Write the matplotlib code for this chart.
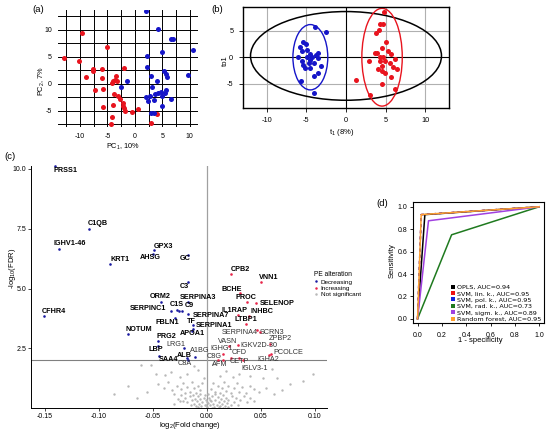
import matplotlib
matplotlib.use("Agg")
import matplotlib.pyplot as plt
from matplotlib.patches import Ellipse
from matplotlib.lines import Line2D
from matplotlib.ticker import MultipleLocator

plt.rcParams["font.family"] = ["Liberation Sans", "DejaVu Sans"]
plt.rcParams["mathtext.fontset"] = "custom"
plt.rcParams["mathtext.rm"] = "Liberation Sans"
plt.rcParams["mathtext.it"] = "Liberation Sans:italic"
plt.rcParams["mathtext.bf"] = "Liberation Sans:bold"
plt.rcParams["axes.unicode_minus"] = False

W, H = 550, 434

# ---- (a) PCA scores ----
pca_red_x = [-9.7, -12.9, -10.1, -5.1, -7.6, -7.6, -8.9, -5.9, -2.0, -5.9, -3.5, -3.6, -3.9, -4.2, -3.3, -7.3,
             -5.8, -3.8, -3.0, -2.7, -2.2, -2.2, -2.0, -1.8, -3.9, -5.8, -0.5, 0.6, -4.2, -4.4, 4.1, 3.0]
pca_red_y = [9.4, 4.8, 4.3, 6.9, 2.7, 2.4, 1.2, 2.8, 2.9, 1.1, 1.5, 0.7, 0.6, 0.2, 0.6, -1.2,
             -1.0, -1.9, -2.3, -2.8, -3.5, -4.1, -4.5, -5.0, -3.9, -4.2, -5.3, -4.7, -6.2, -7.5, -5.5, -7.2]
pca_blue_x = [2.1, -1.5, -2.6, 2.3, 2.3, 4.2, 6.5, 7.0, 10.5, 4.9, 5.3, 5.6, 5.9, 3.0, 4.1, 9.7,
              3.2, 3.6, 4.2, 4.7, 5.0, 2.7, 2.0, 2.4, 3.5, 5.5, 5.6, 6.5, 5.0, 3.0, 3.5]
pca_blue_y = [13.6, 0.6, -0.5, 5.1, 3.2, 10.2, 8.3, 8.3, 6.3, 5.9, 2.4, 1.9, 1.2, 1.5, 0.6, 1.7,
              -0.5, -1.9, -1.7, -1.6, -2.2, -2.3, -2.5, -3.1, -3.0, -1.7, -1.2, -2.8, -4.1, -5.4, -5.4]

# ---- (b) OPLS-DA scores ----
opls_blue_t = [-3.9, -2.5, -5.4, -5.0, -5.8, -5.6, -3.5, -4.5, -6.0, -4.9, -4.3, -3.5, -5.6, -4.7, -4.1,
               -3.2, -5.2, -4.5, -3.5, -4.1, -5.7, -4.0, -4.9, -4.5, -5.4, -3.8]
opls_blue_to = [5.7, 4.7, 2.8, 2.5, 2.0, 1.2, 0.75, 0.6, 0.0, 0.0, 0.0, -0.2, -0.8, -1.1, -1.1,
                -1.6, -2.1, -2.1, -2.9, -3.5, -4.5, -6.8, 1.3, -0.5, -1.4, 0.4]
opls_red_t = [4.8, 4.3, 4.7, 3.8, 4.2, 5.1, 4.5, 5.3, 3.6, 3.9, 5.7, 4.3, 4.7, 2.9, 6.2, 4.3, 4.9,
              4.5, 5.9, 6.4, 4.5, 4.9, 5.7, 1.3, 4.5, 6.2, 3.0, 4.1, 5.5]
opls_red_to = [8.6, 6.3, 6.3, 4.5, 5.2, 2.8, 1.8, 1.2, 0.75, 0.75, 0.6, 0.0, 0.1, -0.7, -0.4, -0.8, -0.8,
               -1.6, -1.9, -2.3, -2.6, -2.9, -3.8, -4.3, -5.1, -6.0, -7.2, -2.2, -1.0]

# ---- (c) volcano plot ----
dec_genes = ["PRSS1", "C1QB", "IGHV1-46", "KRT1", "GPX3", "AHSG", "GC", "C3", "ORM2", "SERPINA3",
             "SERPINC1", "C1S", "", "C9", "SERPINA7", "TF", "SERPINA1", "FBLN1", "APOA1", "NOTUM",
             "PRG2", "LRG1", "LBP", "ALB", "SAA4", "C8A", "A1BG", "CFHR4"]
dec_fc = [-0.1405, -0.109, -0.1365, -0.0895, -0.0485, -0.050, -0.0173, -0.017, -0.0426, -0.017,
          -0.0331, -0.0278, -0.0256, -0.0226, -0.017, -0.0127, -0.0124, -0.0294, -0.0139, -0.0726,
          -0.0448, -0.021, -0.0448, -0.018, -0.0442, -0.017, -0.0108, -0.1506]
dec_lfdr = [10.1, 7.48, 6.67, 6.03, 6.60, 6.45, 6.39, 5.27, 4.44, 4.42,
            4.07, 4.10, 4.07, 4.07, 3.93, 3.48, 3.31, 3.76, 3.24, 3.11,
            2.79, 2.51, 2.62, 2.12, 2.18, 2.03, 2.14, 3.86]
inc_genes = ["CPB2", "VNN1", "BCHE", "PROC", "SELENOP", "IL1RAP", "INHBC", "LTBP1", "SERPINA4", "SCRN3",
             "ZPBP2", "VASN", "IGHG1", "IGKV2D-30", "CFD", "PCOLCE", "IGHA2", "CETP", "IGLV3-1", "AFM", "C8G"]
inc_fc = [0.0225, 0.0498, 0.0308, 0.037, 0.0456, 0.0293, 0.0394, 0.0361, 0.0466, 0.0489,
          0.0586, 0.0206, 0.0148, 0.0287, 0.0222, 0.0595, 0.058, 0.0339, 0.0299, 0.0154, 0.0107]
inc_lfdr = [5.62, 5.29, 4.80, 4.42, 4.38, 3.90, 3.86, 3.52, 3.27, 3.19,
            2.69, 2.62, 2.28, 2.65, 2.11, 2.28, 2.21, 2.03, 2.09, 2.02, 2.03]
ns_fc = [-0.061, -0.052, -0.047, -0.039, -0.033, -0.025, -0.018, -0.008, -0.003, 0.012, 0.018, 0.024,
         0.030, 0.040, 0.052, 0.065, 0.077, 0.089, 0.098, 0.006, -0.012, 0.034, 0.060,
         -0.086, -0.073, -0.045, -0.040, -0.036, -0.032, -0.030, -0.028, -0.025, -0.024, -0.022, -0.020,
         -0.018, -0.016, -0.014, -0.012, -0.010, -0.008, -0.006, -0.004, 0.004, 0.006, 0.008, 0.010,
         0.012, 0.014, 0.016, 0.018, 0.020, 0.022, 0.025, 0.028, 0.030, 0.033, 0.036, 0.040, 0.044,
         0.048, 0.055, 0.062, 0.070, -0.055, -0.065,
         -0.020, -0.018, -0.016, -0.015, -0.014, -0.013, -0.012, -0.011, -0.010, -0.009, -0.008, -0.007,
         -0.006, -0.005, -0.004, -0.003, -0.002, -0.001, 0.000, 0.001, 0.002, 0.003, 0.004, 0.005,
         0.006, 0.007, 0.008, 0.009, 0.010, 0.011, 0.012, 0.013, 0.014, 0.015, 0.016, 0.017, 0.018,
         0.019, 0.020, 0.022, 0.023, 0.025, 0.027, 0.029, 0.031, 0.034, 0.037, 0.040, 0.044, -0.022,
         -0.024, -0.027, -0.030, -0.002, 0.001, -0.006, 0.008, 0.000, 0.003, -0.001, 0.005, 0.011,
         -0.008, 0.015, 0.020]
ns_lfdr = [1.80, 1.80, 1.42, 1.38, 1.50, 1.30, 1.45, 1.60, 1.25, 1.35, 1.55, 1.30,
           1.45, 1.35, 1.25, 1.28, 1.02, 1.14, 1.45, 1.85, 1.75, 1.75, 1.65,
           0.59, 0.94, 1.00, 0.85, 1.10, 0.75, 0.59, 0.95, 0.32, 0.80, 1.05, 0.65,
           0.90, 0.70, 1.10, 0.85, 0.65, 0.95, 0.75, 1.05, 0.80, 1.05, 0.70, 0.95,
           0.62, 0.85, 1.10, 0.72, 0.95, 0.65, 0.85, 1.05, 0.70, 0.90, 0.62, 0.95, 0.80,
           0.70, 0.85, 0.60, 0.75, 0.70, 0.45,
           0.45, 0.25, 0.50, 0.15, 0.35, 0.55, 0.20, 0.40, 0.10, 0.30, 0.50, 0.18,
           0.38, 0.08, 0.27, 0.45, 0.15, 0.33, 0.05, 0.22, 0.42, 0.12, 0.30, 0.52,
           0.20, 0.07, 0.36, 0.15, 0.48, 0.26, 0.10, 0.40, 0.18, 0.55, 0.30, 0.08, 0.45,
           0.22, 0.35, 0.12, 0.50, 0.28, 0.42, 0.15, 0.33, 0.50, 0.25, 0.45, 0.30, 0.30,
           0.55, 0.40, 0.20, 0.55, 0.60, 0.58, 0.58, 0.25, 0.35, 0.12, 0.03, 0.05,
           0.04, 0.02, 0.06]
plain_labels = {"LRG1", "C8A", "A1BG", "SERPINA4", "SCRN3", "ZPBP2", "VASN", "IGHG1", "IGKV2D-30",
                "CFD", "PCOLCE", "IGHA2", "CETP", "IGLV3-1", "AFM", "C8G"}
# left edge / vertical centre of each gene label (data units)
label_pos = {
    "PRSS1": (-0.1423, 9.94), "C1QB": (-0.1099, 7.70), "IGHV1-46": (-0.1423, 6.87), "KRT1": (-0.0895, 6.21),
    "GPX3": (-0.0488, 6.76), "AHSG": (-0.0618, 6.29), "GC": (-0.0247, 6.24), "C3": (-0.0247, 5.09),
    "ORM2": (-0.0525, 4.67), "SERPINA3": (-0.0247, 4.63), "SERPINC1": (-0.071, 4.17), "C1S": (-0.0346, 4.35),
    "C9": (-0.0201, 4.28), "SERPINA7": (-0.013, 3.89), "TF": (-0.0185, 3.61), "SERPINA1": (-0.0099, 3.45),
    "FBLN1": (-0.0479, 3.59), "APOA1": (-0.0254, 3.11), "NOTUM": (-0.0756, 3.28), "PRG2": (-0.0463, 3.01),
    "LRG1": (-0.037, 2.65), "LBP": (-0.054, 2.46), "ALB": (-0.0278, 2.21), "SAA4": (-0.0448, 2.03),
    "C8A": (-0.0269, 1.86), "A1BG": (-0.0155, 2.41), "CFHR4": (-0.1527, 4.03),
    "CPB2": (0.0225, 5.80), "VNN1": (0.0484, 5.48), "BCHE": (0.0139, 4.97), "PROC": (0.0262, 4.63),
    "SELENOP": (0.0487, 4.39), "IL1RAP": (0.0132, 4.10), "INHBC": (0.0407, 4.05), "LTBP1": (0.0253, 3.71),
    "SERPINA4": (0.0139, 3.15), "SCRN3": (0.0487, 3.15), "ZPBP2": (0.0575, 2.93), "VASN": (0.0105, 2.80),
    "IGHG1": (0.0031, 2.48), "IGKV2D-30": (0.0308, 2.62), "CFD": (0.0231, 2.31), "PCOLCE": (0.0617, 2.35),
    "IGHA2": (0.0469, 2.03), "CETP": (0.0209, 1.95), "IGLV3-1": (0.0324, 1.68), "AFM": (0.0046, 1.82),
    "C8G": (0.0, 2.17),
}

# ---- (d) ROC curves ----
roc_names = ["OPLS, AUC=0.94", "SVM, lin. k., AUC=0.95", "SVM, pol. k., AUC=0.95",
             "SVM, rad. k., AUC=0.73", "SVM, sigm. k., AUC=0.89", "Random forest, AUC=0.95"]
roc_fpr = [[0, 0.06, 1], [0, 0.03, 1], [0, 0.03, 1], [0, 0.28, 1], [0, 0.09, 1], [0, 0.03, 1]]
roc_tpr = [[0, 0.93, 1], [0, 0.93, 1], [0, 0.93, 1], [0, 0.75, 1], [0, 0.875, 1], [0, 0.93, 1]]
roc_colors = ["black", "#ee1111", "#1122dd", "#1f7a1f", "#a040e0", "#ffa030"]

RED = "#e8141e"
BLUE = "#1515c8"


def add_ax(fig, l, t, r, b):
    return fig.add_axes([l / W, 1 - b / H, (r - l) / W, (b - t) / H])


def ftext(fig, x, y, s, **kw):
    fig.text(x / W, 1 - y / H, s, ha=kw.pop("ha", "center"), va=kw.pop("va", "center"), **kw)


fig = plt.figure(figsize=(W / 100, H / 100), dpi=100)

# (a)
ax = add_ax(fig, 58, 10, 198, 127)
ax.scatter(pca_red_x, pca_red_y, s=13, color=RED, linewidths=0, zorder=3)
ax.scatter(pca_blue_x, pca_blue_y, s=13, color=BLUE, linewidths=0, zorder=3)
ax.set_xlim(-14, 11.5)
ax.set_ylim(-8, 13.7)
ax.xaxis.set_major_locator(MultipleLocator(5))
ax.yaxis.set_major_locator(MultipleLocator(5))
ax.xaxis.set_minor_locator(MultipleLocator(2.5))
ax.yaxis.set_minor_locator(MultipleLocator(2.5))
ax.grid(which="both", color="black", lw=0.7)
ax.set_axisbelow(True)
for sp in ax.spines.values():
    sp.set_visible(False)
ax.tick_params(which="both", length=0, labelsize=5, pad=4.5)
ftext(fig, 38, 10, "(a)", fontsize=6.8)
ftext(fig, 123, 146.5, "PC$_1$, 10%", fontsize=5.3)
ftext(fig, 42, 81, "PC$_2$, 7%", fontsize=5.3, rotation=90)

# (b)
ax = add_ax(fig, 243, 7.3, 449, 107.7)
for v in (-10, -5, 5, 10):
    ax.axvline(v, color="#b0b0b0", lw=0.8, zorder=1)
ax.axhline(-5, color="#b0b0b0", lw=0.8, zorder=1)
ax.axhline(5, color="#b0b0b0", lw=0.8, zorder=1)
ax.axvline(0, color="black", lw=0.8, zorder=1)
ax.axhline(0, color="black", lw=0.8, zorder=1)
ax.add_patch(Ellipse((0, 0.25), 24.1, 16.7, fill=False, ec="black", lw=1.1, zorder=2))
ax.add_patch(Ellipse((-4.5, 0), 4.4, 12.3, fill=False, ec=BLUE, lw=1.0, zorder=2))
ax.add_patch(Ellipse((4.55, 0), 5.1, 18.4, fill=False, ec=RED, lw=1.0, zorder=2))
ax.scatter(opls_blue_t, opls_blue_to, s=13, color=BLUE, linewidths=0, zorder=3)
ax.scatter(opls_red_t, opls_red_to, s=13, color=RED, linewidths=0, zorder=3)
ax.set_xlim(-13, 13)
ax.set_ylim(-9.5, 9.4)
ax.set_xticks([-10, -5, 0, 5, 10])
ax.set_yticks([-5, 0, 5])
ax.tick_params(length=3, width=0.6, labelsize=5.3, pad=4)
for sp in ax.spines.values():
    sp.set_linewidth(1.0)
ftext(fig, 217, 10, "(b)", fontsize=6.8)
ftext(fig, 342, 132, "t$_1$ (8%)", fontsize=5.5)
ftext(fig, 225, 61, "to1", fontsize=5.5, rotation=90)

# (c)
ax = add_ax(fig, 30.7, 166, 326.7, 408.3)
ax.axhline(2.0, color="#808080", lw=0.8, zorder=1)
ax.axvline(0, color="#a0a0a0", lw=0.9, zorder=1)
ax.scatter(ns_fc, ns_lfdr, s=3, color="#b8b8b8", linewidths=0, zorder=2)
ax.scatter(dec_fc, dec_lfdr, s=3.5, color="#1a1aa0", linewidths=0, zorder=3, clip_on=False)
ax.scatter(inc_fc, inc_lfdr, s=3.5, color="#e8264a", linewidths=0, zorder=3, clip_on=False)
for name in dec_genes + inc_genes:
    if not name:
        continue
    lx, ly = label_pos[name]
    ax.text(lx, ly, name, fontsize=5.2, ha="left", va="center",
            fontweight="normal" if name in plain_labels else "bold",
            color="#333333" if name in plain_labels else "black", zorder=4)
ax.set_xlim(-0.163, 0.111)
ax.set_ylim(0, 10.12)
ax.set_xticks([-0.15, -0.10, -0.05, 0.00, 0.05, 0.10])
ax.set_xticklabels(["-0.15", "-0.10", "-0.05", "0.00", "0.05", "0.10"])
ax.set_yticks([2.5, 5.0, 7.5, 10.0])
ax.set_yticklabels(["2.5", "5.0", "7.5", "10.0"])
ax.spines["top"].set_visible(False)
ax.spines["right"].set_visible(False)
ax.spines["left"].set_linewidth(0.7)
ax.spines["bottom"].set_linewidth(0.7)
ax.tick_params(length=2, width=0.5, labelsize=5, pad=1.2)
leg_handles = [Line2D([], [], ls="none", marker="o", ms=1.8, mew=0, color=c)
               for c in ("#1a1aa0", "#e8264a", "#b8b8b8")]
fig.legend(leg_handles, ["Decreasing", "Increasing", "Not significant"], title="PE alteration",
           loc="upper left", bbox_to_anchor=(311 / W, 1 - 268 / H), frameon=False,
           fontsize=4.6, title_fontsize=4.8, handlelength=0.6, handletextpad=0.4,
           labelspacing=0.15, borderpad=0, alignment="left")
ftext(fig, 10, 157, "(c)", fontsize=6.8)
ftext(fig, 190, 425.5, "log$_2$(Fold change)", fontsize=5.5)
ftext(fig, 12, 268, "-log$_{10}$(FDR)", fontsize=5.5, rotation=90)

# (d)
ax = add_ax(fig, 412.7, 202.3, 544, 323.3)
order = [0, 3, 4, 5, 1, 2]
for i in order:
    ls = "-" if i not in (1, 2) else (0, (2, 2))
    ax.plot(roc_fpr[i], roc_tpr[i], color=roc_colors[i], lw=1.1, ls=ls, zorder=2 + i)
ax.set_xlim(-0.04, 1.04)
ax.set_ylim(-0.04, 1.04)
ticks = [0.0, 0.2, 0.4, 0.6, 0.8, 1.0]
ax.set_xticks(ticks)
ax.set_yticks(ticks)
ax.set_xticklabels([f"{t:.1f}" for t in ticks])
ax.set_yticklabels([f"{t:.1f}" for t in ticks])
ax.tick_params(axis="x", length=2.5, width=0.6, labelsize=5, pad=3.5)
ax.tick_params(axis="y", length=2.5, width=0.6, labelsize=5, pad=1.5)
for sp in ax.spines.values():
    sp.set_linewidth(0.8)
roc_handles = [Line2D([], [], ls="none", marker="s", ms=2.6, mew=0, color=c) for c in roc_colors]
ax.legend(roc_handles, roc_names, loc="lower left", bbox_to_anchor=(451.5 / W, 1 - 322 / H),
          bbox_transform=fig.transFigure, frameon=False, prop={"family": "DejaVu Sans", "size": 4.6},
          handlelength=0.5, handletextpad=0.35, labelspacing=0.15, borderpad=0, borderaxespad=0)
ftext(fig, 382, 203, "(d)", fontsize=6.8)
ftext(fig, 480, 341, "1 - specificity", fontsize=5.5)
ftext(fig, 392, 261, "Sensitivity", fontsize=5.5, rotation=90)

fig.savefig("out.png", dpi=100)
